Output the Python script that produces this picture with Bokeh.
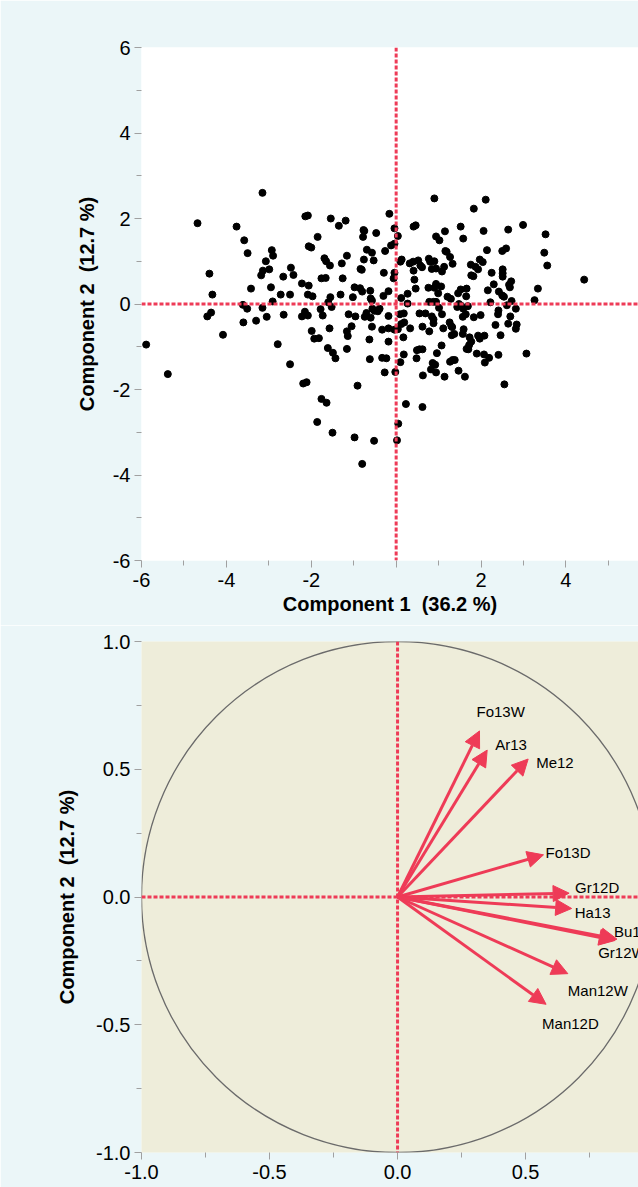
from bokeh.plotting import figure
from bokeh.models import (Range1d, FixedTicker, Span, Arrow, NormalHead,
                          ColumnDataSource)
from bokeh.layouts import column
from bokeh.embed import file_html
from bokeh.resources import INLINE
from bokeh.core.properties import value

# ---------------- data: score plot ----------------
pc1 = [-3.15, -4.68, -3.76, -3.58, -3.50, -4.40, -4.33, -4.45, -4.36, -4.08,
       -5.89, -5.38, -3.61, -3.51, -3.60, -3.30, -3.42, -3.15, -3.05, -2.95,
       -2.91, -2.72, -2.66, -2.65, -2.50, -2.48, -2.42, -2.79, -2.50, -3.18,
       -3.14, -3.07, -2.99, -2.90, -2.93, -2.22, -2.06, -2.14, -2.08, -2.06,
       -2.00, -1.85, -1.54, -1.35, -1.19, -2.08, -1.97, -2.22, -2.15, -2.08,
       -1.99, -1.93, -1.82, -1.78, -1.73, -1.69, -1.65, -1.56, -1.76, -1.66,
       -1.55, -1.60, -1.52, -1.57, -1.61, -1.49, -1.43, -1.28, -1.16, -1.26,
       -1.31, -1.12, -1.05, -1.16, -1.14, -1.16, -0.98, -1.02, -0.96, -0.85,
       -0.80, -0.84, -0.81, -0.77, -0.75, -0.78, -0.69, -0.57, -0.76, -0.53,
       -0.47, -0.61, -0.60, -0.57, -0.70, -0.74, -0.60, -0.56, -0.51, -0.43,
       -0.39, -0.57, -0.63, -0.62, -2.19, -2.11, -0.91, -1.76, -1.64, -1.86,
       -1.50, -0.98, -0.52, -0.80, 2.55, 0.23, 0.62, 0.05, 0.02, -0.16,
       -0.04, 0.04, -0.12, -0.04, -0.26, 0.13, 0.10, -0.04, -0.06, -0.29,
       -0.18, -0.30, 0.12, 0.27, 0.27, -0.18, 0.18, 0.09, 0.19, 0.12,
       -0.18, -0.33, -0.04, 0.04, 0.33, 0.17, -0.18, 0.18, 0.10, -0.23,
       -0.33, -0.02, -0.27, 0.41, 0.46, 0.43, 0.46, 0.32, 0.40, 0.52,
       0.57, 0.61, 0.41, 0.55, 0.69, 0.62, 0.49, 0.55, 0.62, 0.48,
       0.63, 0.90, 0.94, 1.02, 1.15, 0.77, 0.80, 0.90, 0.84, 0.94,
       1.08, 1.13, 0.76, 0.94, 0.90, 1.06, 0.99, 0.88, 0.78, 0.94,
       1.01, 1.08, 0.84, 0.88, 0.88, 0.78, 1.11, 1.21, 1.29, 1.26,
       1.30, 1.37, 1.07, 0.96, 0.86, 0.92, 0.82, 0.94, 1.14, 1.16,
       1.19, 1.27, 1.33, 1.52, 1.58, 1.52, 1.46, 1.66, 1.65, 1.48,
       1.53, 1.44, 1.69, 1.58, 1.57, 1.64, 1.83, 1.99, 1.32, 1.31,
       1.59, 1.57, 1.73, 1.77, 1.72, 1.70, 1.66, 1.93, 1.97, 2.08,
       1.27, 1.33, 1.38, 1.47, 1.62, 1.90, 1.76, 1.77, 1.82, 1.87,
       1.93, 1.97, 2.04, 1.83, 2.11, 2.06, 2.14, 2.25, 2.16, 2.30,
       2.22, 2.07, 2.19, 2.09, 2.34, 2.41, 2.40, 2.42, 2.50, 2.41,
       2.46, 2.51, 2.51, 2.51, 2.50, 2.59, 2.64, 2.54, 2.61, 2.68,
       2.66, 2.71, 2.69, 2.64, 2.72, 2.82, 2.84, 2.82, 2.99, 3.34,
       3.26, 3.07, 3.52, 3.49, 3.56, 4.43]
pc2 = [2.60, 1.89, 1.81, 1.49, 1.19, 0.71, 0.22, -0.29, -0.20, -0.72,
       -0.95, -1.64, -0.02, -0.11, -0.43, -0.39, 0.36, -0.09, -0.30, 0.39,
       0.06, 0.22, 0.64, -0.25, 0.22, 0.85, 0.68, -0.94, -1.41, 0.67,
       0.78, 1.00, 0.81, 1.13, 1.26, 0.48, 0.43, 2.05, 2.07, 1.35,
       1.32, 1.57, 2.00, 1.83, 1.95, 0.22, 0.18, -0.29, -0.18, -0.27,
       -0.63, -0.81, -0.80, -0.12, -0.27, 1.07, 1.00, 0.90, 0.60, 0.61,
       0.16, 0.04, -0.07, -0.57, -1.03, -1.14, -1.27, 0.95, 1.13, 0.60,
       0.22, -0.24, -0.52, -0.64, -0.75, -1.05, 0.39, 0.16, -0.29, 0.37,
       0.29, 0.82, 0.80, 1.73, 1.71, 1.57, 1.27, 1.20, 1.04, 1.02,
       1.66, 0.31, 0.13, 0.08, -0.21, -0.30, -0.32, -0.11, -0.16, -0.17,
       -0.11, -0.53, -0.83, -1.29, -1.86, -1.83, -1.91, -2.22, -2.31, -2.76,
       -3.01, -3.12, -3.20, -3.74, -1.88, -2.34, -2.41, -2.80, -3.19, 2.11,
       1.77, 1.59, 1.37, 1.41, 1.24, 1.04, 0.99, 0.73, 0.60, 0.73,
       0.30, 0.19, 0.14, 0.24, 0.01, -0.28, -0.22, -0.24, -0.43, -0.47,
       -0.57, -0.60, -0.60, -0.59, -0.57, -0.78, -0.88, -1.18, -1.36, -1.27,
       -1.26, -1.59, -1.60, 1.81, 1.84, 0.57, 0.36, 0.95, 0.99, 1.02,
       0.90, 0.86, 0.78, -0.22, -0.22, -0.53, -1.08, -1.06, -1.06, -1.27,
       -1.67, 2.47, 1.58, 1.49, 1.70, 1.06, 0.99, 1.00, 0.82, 0.83,
       0.76, 0.87, 0.38, 0.47, 0.38, 0.41, 0.25, 0.05, 0.05, 0.05,
       -0.09, -0.24, -0.29, -0.36, -0.45, -0.64, -0.57, 0.17, 0.12, -0.43,
       -0.52, -0.70, -0.97, -1.15, -1.38, -1.42, -1.53, -1.60, -1.70, 1.24,
       1.22, 1.10, 0.94, 1.81, 1.53, 0.34, 0.25, 0.36, 0.18, 0.00,
       -0.04, -0.07, -0.05, -0.11, -0.30, -0.24, -0.31, -0.26, -0.54, -0.73,
       -0.59, -0.70, -0.78, -0.88, -0.96, -1.06, -1.05, -0.74, -0.81, -0.74,
       -1.35, -1.31, -1.31, -1.56, -1.70, -1.16, 0.92, 0.67, 0.65, 0.87,
       0.81, 1.04, 0.98, 2.23, 2.44, 1.71, 1.26, 0.73, 0.32, 0.46,
       0.04, -1.18, -1.26, -1.37, -0.49, -0.15, -0.24, 0.29, 0.20, -1.19,
       -0.73, 0.81, 0.72, 0.64, 1.24, 1.30, 1.74, 0.17, -0.03, 0.39,
       0.45, 0.53, -0.29, -0.46, 0.07, -0.11, -0.48, -0.58, 1.85, 0.36,
       0.09, -1.16, 1.63, 1.20, 0.90, 0.57]

# ---------------- data: loading plot ----------------
var_names = ["Fo13W", "Ar13", "Me12", "Fo13D", "Gr12D", "Ha13", "Bu12",
             "Gr12W", "Man12W", "Man12D"]
load1 = [0.32, 0.35, 0.51, 0.57, 0.67, 0.68, 0.857, 0.85, 0.665, 0.58]
load2 = [0.65, 0.575, 0.54, 0.165, 0.015, -0.045, -0.165, -0.17, -0.30, -0.42]

NBSP = "\u00a0"
x_title = "Component 1" + NBSP + NBSP + "(36.2 %)"
y_title = "Component 2" + NBSP + NBSP + "(12.7 %)"

score_xticks = [-6, -4, -2, 0, 2, 4]
score_xlabels = ["-6", "-4", "-2", "", "2", "4"]
score_xminor = [-5, -3, -1, 1, 3, 5]
score_yticks = [-6, -4, -2, 0, 2, 4, 6]
score_ylabels = ["-6", "-4", "-2", "0", "2", "4", "6"]
score_yminor = [-5, -3, -1, 1, 3, 5]
load_ticks = [-1.0, -0.5, 0.0, 0.5, 1.0]
load_labels = ["-1.0", "-0.5", "0.0", "0.5", "1.0"]
load_minor = [-0.75, -0.25, 0.25, 0.75]

# label offsets (screen px) for loading labels
lab_dx = [-3, 8, 8, 2, 6, 3, -3, -17, 0, -4]
lab_dy = [-19, -6, 3, -2, -6, 4, -8, 12, 17, 19]

BG = "#EBF6F8"
BEIGE = "#EEEDDA"
RED = "#EE3B57"
FONT = "Liberation Sans"


def style_axes(p, ylab_standoff):
    for ax in (p.xaxis[0], p.yaxis[0]):
        ax.axis_line_color = None
        ax.major_tick_line_color = "#A0A0A0"
        ax.minor_tick_line_color = "#A0A0A0"
        ax.major_tick_in = 0
        ax.major_tick_out = 7
        ax.minor_tick_in = 0
        ax.minor_tick_out = 5
        ax.major_label_text_font = FONT
        ax.major_label_text_font_size = "20px"
        ax.major_label_text_color = "black"
        ax.axis_label_text_font = FONT
        ax.axis_label_text_font_style = "bold"
        ax.axis_label_text_font_size = "20px"
        ax.axis_label_text_color = "black"
    p.xaxis.major_label_standoff = 5
    p.yaxis.major_label_standoff = 4
    p.xaxis.axis_label_standoff = 3
    p.yaxis.axis_label_standoff = ylab_standoff
    p.xgrid.grid_line_color = None
    p.ygrid.grid_line_color = None


def ref_lines(p):
    p.add_layout(Span(location=0, dimension="height", line_color=RED,
                      line_width=3, line_dash="4 2"))
    p.add_layout(Span(location=0, dimension="width", line_color=RED,
                      line_width=3, line_dash="4 2"))


# ---------------- score plot ----------------
p1 = figure(width=638, height=625, x_range=Range1d(-6, 5.71), y_range=Range1d(-6, 6),
            output_backend="svg", toolbar_location=None,
            min_border_left=138, min_border_right=0, min_border_top=47,
            min_border_bottom=65, background_fill_color="white",
            border_fill_color=BG, outline_line_color=None)
style_axes(p1, 12)
p1.xaxis.axis_label = x_title
p1.yaxis.axis_label = y_title
p1.xaxis.ticker = FixedTicker(ticks=score_xticks, minor_ticks=score_xminor)
p1.yaxis.ticker = FixedTicker(ticks=score_yticks, minor_ticks=score_yminor)
p1.xaxis.major_label_overrides = dict(zip(score_xticks, score_xlabels))
p1.yaxis.major_label_overrides = dict(zip(score_yticks, score_ylabels))

p1.scatter(x=pc1, y=pc2, size=7, color="black")
ref_lines(p1)

# ---------------- loading plot ----------------
p2 = figure(width=638, height=562, x_range=Range1d(-1, 0.941), y_range=Range1d(-1, 1),
            output_backend="svg", toolbar_location=None,
            min_border_left=141, min_border_right=0, min_border_top=16,
            min_border_bottom=35, background_fill_color=BEIGE,
            border_fill_color=BG, outline_line_color=None)
style_axes(p2, 15)
p2.yaxis.axis_label = y_title
p2.xaxis.ticker = FixedTicker(ticks=load_ticks, minor_ticks=load_minor)
p2.yaxis.ticker = FixedTicker(ticks=load_ticks, minor_ticks=load_minor)
p2.xaxis.major_label_overrides = dict(zip(load_ticks, load_labels))
p2.yaxis.major_label_overrides = dict(zip(load_ticks, load_labels))

p2.ellipse(x=[0], y=[0], width=[2.0], height=[2.0], fill_color=None,
           line_color="#6B6B6B", line_width=1.3)
ref_lines(p2)

src = ColumnDataSource(dict(x1=load1, y1=load2, name=var_names, dx=lab_dx, dy=lab_dy))
p2.add_layout(Arrow(source=src, x_start=0, y_start=0, x_end="x1", y_end="y1",
                    line_color=RED, line_width=3,
                    end=NormalHead(size=16, fill_color=RED, line_color=RED)))
p2.text(x="x1", y="y1", text="name", x_offset="dx", y_offset="dy", source=src,
        text_font=value(FONT), text_font_size="15px", text_baseline="middle",
        text_align="left", text_color="black")

layout = column(p1, p2, spacing=0)
open("out.html", "w").write(file_html(layout, INLINE))
